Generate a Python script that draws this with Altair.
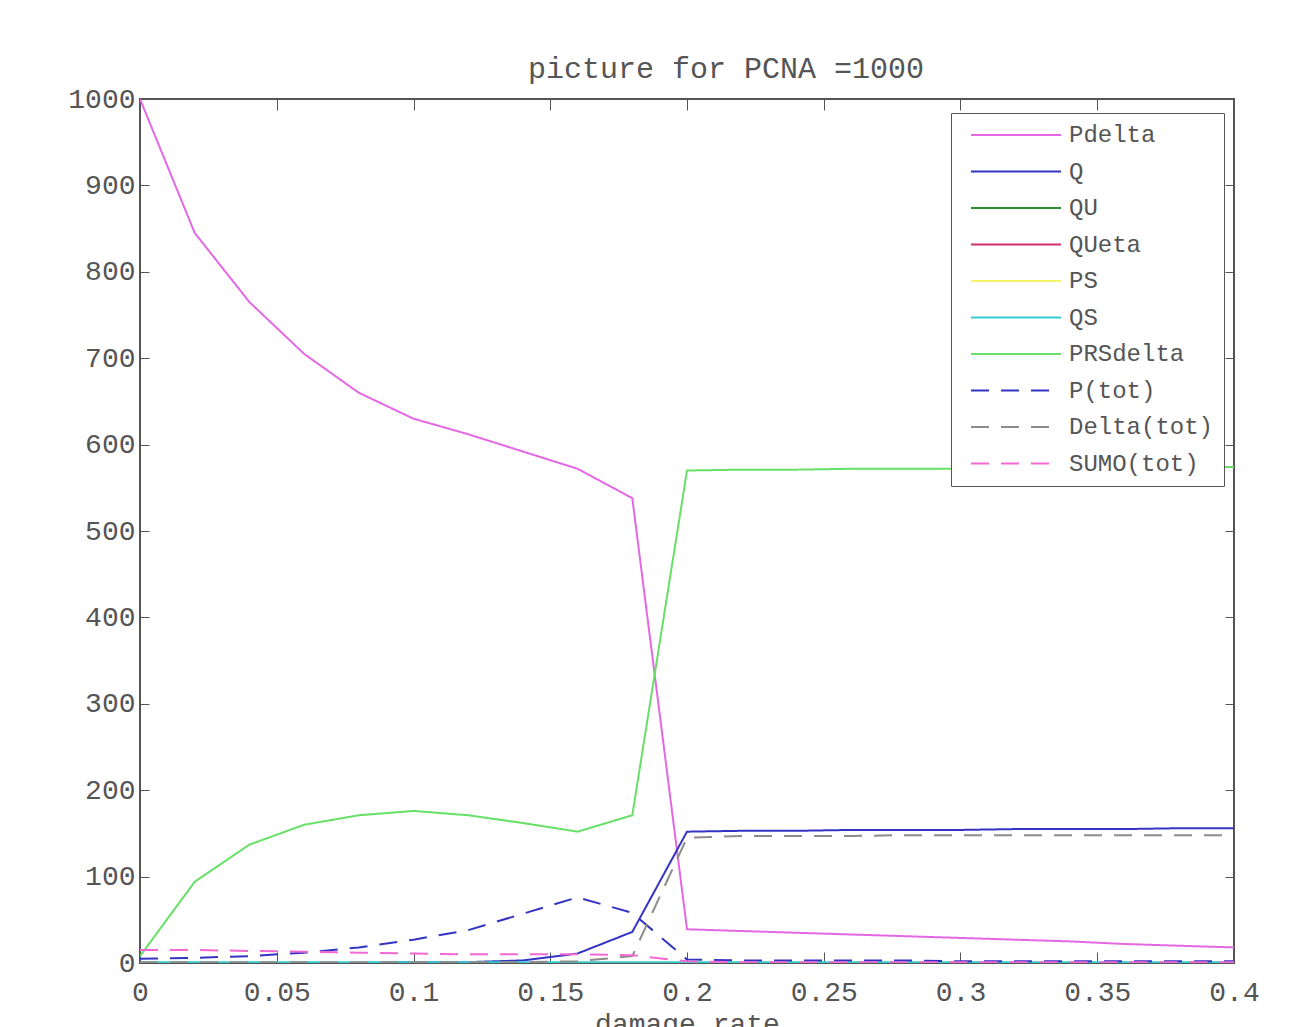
import altair as alt
import pandas as pd

xs = [0, 0.02, 0.04, 0.06, 0.08, 0.10, 0.12, 0.14, 0.16, 0.18, 0.20,
      0.22, 0.24, 0.26, 0.28, 0.30, 0.32, 0.34, 0.36, 0.38, 0.40]

series_names = ["Pdelta", "Q", "QU", "QUeta", "PS", "QS", "PRSdelta",
                "P(tot)", "Delta(tot)", "SUMO(tot)"]
series_colors = ["#e467e4", "#3434c4", "#2f8f2f", "#d0306a", "#f4f46a",
                 "#36cccc", "#66e066", "#3434c4", "#8c8c8c", "#f468d4"]
series_dashes = [[1, 0], [1, 0], [1, 0], [1, 0], [1, 0], [1, 0], [1, 0],
                 [18, 12], [18, 12], [18, 12]]

Pdelta = [1000, 845, 765, 705, 660, 630, 612, 592, 572, 538, 39,
          37, 35, 33, 31, 29, 27, 25, 22, 20, 18]
Q = [0, 0, 0, 0, 0, 1, 1, 3, 11, 36, 152,
     153, 153, 154, 154, 154, 155, 155, 155, 156, 156]
QU = [0] * 21
QUeta = [0] * 21
PS = [0] * 21
QS = [1] * 21
PRSdelta = [8, 94, 137, 160, 171, 176, 171, 162, 152, 171, 570,
            571, 571, 572, 572, 572, 573, 573, 573, 574, 574]
Ptot = [5, 6, 8, 12, 18, 27, 38, 57, 76, 58, 4,
        3, 3, 3, 3, 2, 2, 2, 2, 2, 2]
Deltatot = [1, 1, 1, 1, 1, 1, 1, 1, 2, 8, 145,
            147, 147, 147, 148, 148, 148, 148, 148, 148, 148]
SUMOtot = [15, 15, 14, 13, 12, 11, 10, 10, 10, 9, 2,
           1, 1, 1, 1, 1, 1, 1, 1, 1, 1]

all_series = [Pdelta, Q, QU, QUeta, PS, QS, PRSdelta, Ptot, Deltatot, SUMOtot]

x_ticks = [0, 0.05, 0.1, 0.15, 0.2, 0.25, 0.3, 0.35, 0.4]
y_ticks = [0, 100, 200, 300, 400, 500, 600, 700, 800, 900, 1000]

rows = []
for i, (name, vals) in enumerate(zip(series_names, all_series)):
    for x, v in zip(xs, vals):
        rows.append({"x": x, "value": v, "series": name, "order": i})
df = pd.DataFrame(rows)

FONT = "Liberation Mono"
TXT = "#555555"
FS = 28

color_scale = alt.Scale(domain=series_names, range=series_colors)
dash_scale = alt.Scale(domain=series_names, range=series_dashes)

legend = alt.Legend(
    title=None, orient="none", legendX=811, legendY=14,
    symbolType="M-4.5,0H4.5", symbolSize=400, symbolStrokeWidth=2,
    symbolOffset=43, labelOffset=41,
    labelFont=FONT, labelFontSize=24, labelColor=TXT,
    rowPadding=12.5, padding=10,
    strokeColor="#555555", fillColor="white",
)

base = alt.Chart(df)

lines = base.mark_line(strokeWidth=2, clip=True).encode(
    x=alt.X("x:Q", scale=alt.Scale(domain=[0, 0.4], nice=False, zero=False),
            axis=alt.Axis(values=x_ticks, format="~g", title="damage rate",
                          orient="bottom", domain=False, grid=False,
                          offset=-11, tickSize=11, tickColor="#555555",
                          labelPadding=15, labelFont=FONT, labelFontSize=FS,
                          labelColor=TXT, titleFont=FONT, titleFontSize=FS,
                          titleColor=TXT, titleFontWeight="normal",
                          titlePadding=4, labelFlush=False)),
    y=alt.Y("value:Q", scale=alt.Scale(domain=[0, 1000], nice=False),
            axis=alt.Axis(values=y_ticks, format="d", title=None,
                          orient="left", domain=False, grid=False,
                          offset=-9, tickSize=9, tickColor="#555555",
                          labelPadding=5, labelFont=FONT, labelFontSize=FS,
                          labelColor=TXT, labelFlush=False)),
    color=alt.Color("series:N", scale=color_scale, legend=legend,
                    sort=series_names),
    strokeDash=alt.StrokeDash("series:N", scale=dash_scale, legend=legend,
                              sort=series_names),
    order=alt.Order("order:Q"),
    detail="series:N",
)

frame = base.mark_line(opacity=0).encode(
    x=alt.X("x:Q", axis=alt.Axis(values=x_ticks, orient="top", labels=False,
                                 domain=False, grid=False, title=None,
                                 offset=-11, tickSize=11,
                                 tickColor="#555555")),
    y=alt.Y("value:Q", axis=alt.Axis(values=y_ticks, orient="right",
                                     labels=False, domain=False, grid=False,
                                     title=None, offset=-9, tickSize=9,
                                     tickColor="#555555")),
)

chart = alt.layer(lines, frame).resolve_axis(
    x="independent", y="independent"
).properties(
    width=1094, height=864,
    title=alt.TitleParams("picture for PCNA =1000", font=FONT, fontSize=30,
                          color=TXT, fontWeight="normal", anchor="middle",
                          dx=39, offset=1),
    padding={"left": 67, "top": 54, "right": 10, "bottom": 10},
).configure(
    background="white",
    view=alt.ViewConfig(stroke="#555555", strokeWidth=2),
)

chart.save("out.html", embed_options={"renderer": "svg", "actions": False})
